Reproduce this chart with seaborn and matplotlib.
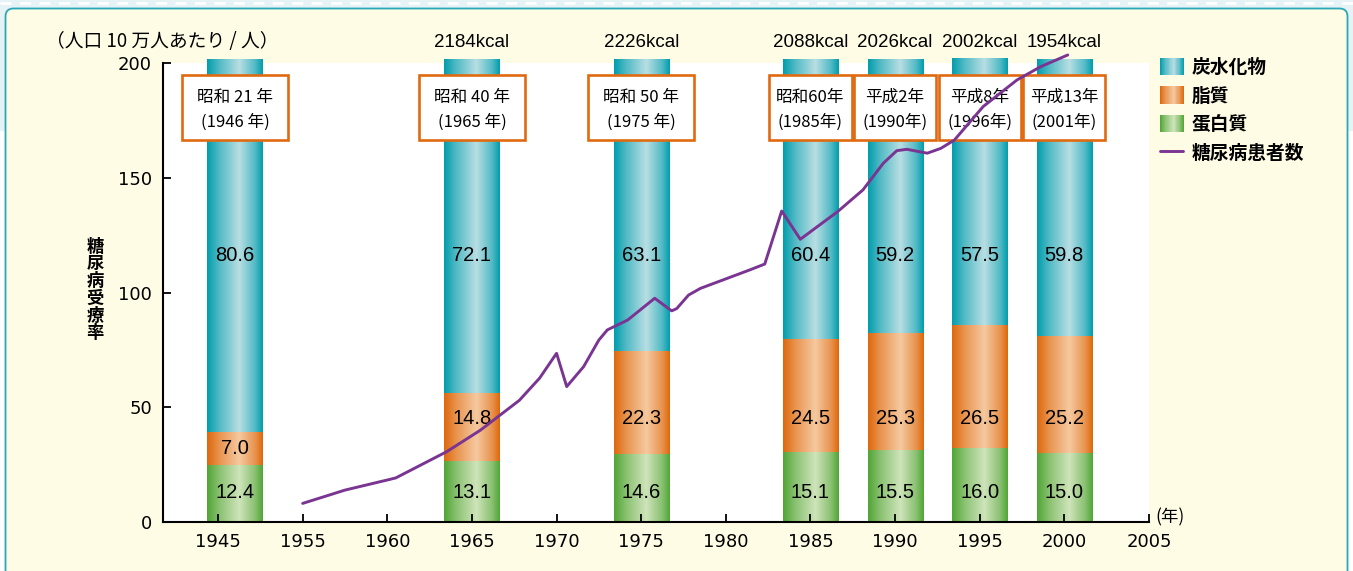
import numpy as np
import matplotlib
matplotlib.use("Agg")
import matplotlib.pyplot as plt
import seaborn as sns
from matplotlib.patches import Rectangle, FancyBboxPatch, Patch
from matplotlib.lines import Line2D
from matplotlib.colors import LinearSegmentedColormap
from matplotlib.legend_handler import HandlerBase

# ---------------- data ----------------
bar_years = [1946, 1965, 1975, 1985, 1990, 1995, 2000]
era_labels = ["昭和 21 年\n(1946 年)", "昭和 40 年\n(1965 年)", "昭和 50 年\n(1975 年)",
              "昭和 60 年\n(1985 年)", "平成 2 年\n(1990 年)", "平成 8 年\n(1996 年)",
              "平成 13 年\n(2001 年)"]
kcal = [None, 2184, 2226, 2088, 2026, 2002, 1954]
protein = [12.4, 13.1, 14.6, 15.1, 15.5, 16.0, 15.0]
fat = [7.0, 14.8, 22.3, 24.5, 25.3, 26.5, 25.2]
carbs = [80.6, 72.1, 63.1, 60.4, 59.2, 57.5, 59.8]

line_years = [1955, 1957.5, 1960, 1960.5, 1963.5, 1965.5, 1967.8, 1969, 1970, 1970.6,
              1971.6, 1972.5, 1973, 1974.2, 1975.8, 1976.8, 1977.1, 1977.8, 1978.5,
              1981.4, 1982.3, 1983.3, 1984.4, 1986.6, 1988.1, 1989.3, 1990.1, 1990.7,
              1991.9, 1992.7, 1993.5, 1995.2, 1997.2, 1998.6, 2000.2]
line_values = [8.1, 13.9, 18.3, 19.2, 30.6, 40.0, 53.0, 62.7, 73.5, 59.0,
               67.7, 79.3, 83.7, 88.0, 97.5, 92.0, 93.0, 98.9, 101.8,
               109.8, 112.4, 135.5, 123.2, 135.2, 144.7, 156.3, 161.8, 162.4,
               160.7, 162.8, 166.4, 181.0, 192.6, 198.4, 203.5]

tick_years = [1945, 1955, 1960, 1965, 1970, 1975, 1980, 1985, 1990, 1995, 2000, 2005]
y_ticks = [0, 50, 100, 150, 200]

series_names = ["炭水化物", "脂質", "蛋白質", "糖尿病患者数"]


# broken x scale: 1945-1950 occupies one step, then 1955 onwards
def to_pos(years):
    return np.interp(years, [1945, 1950, 1955, 2005], [0, 1, 1, 11])


# ---------------- style ----------------
sns.set_theme(style="ticks")
plt.rcParams["font.family"] = ["Noto Sans CJK JP", "DejaVu Sans"]
plt.rcParams["text.color"] = "black"

TEAL = ("#009DAD", "#B8DEE3")
ORANGE = ("#DE680C", "#F5C9A0")
GREEN = ("#50A535", "#CFE4BA")
PURPLE = "#7A3592"
BOX_EDGE = "#E06A10"


def grad_cmap(pair):
    dark, light = pair
    mid = LinearSegmentedColormap.from_list("m", [dark, light])(0.45)
    return LinearSegmentedColormap.from_list(
        "g", [(0, dark), (0.22, mid), (0.58, light), (0.86, mid), (1, dark)])


cm_teal, cm_orange, cm_green = grad_cmap(TEAL), grad_cmap(ORANGE), grad_cmap(GREEN)

W, H = 1353, 571
fig = plt.figure(figsize=(W / 100, H / 100), dpi=100)
fig.patch.set_facecolor("white")

# page decoration
fig.patches.append(Rectangle((0, 1 - 131 / H), 1, 131 / H, transform=fig.transFigure,
                             facecolor="#E6F3F6", edgecolor="none", zorder=-5))
fig.add_artist(Line2D([0, 1], [1 - 3 / H] * 2, transform=fig.transFigure, color="white",
                      lw=2, ls=(0, (4, 3)), zorder=-4))
fig.patches.append(FancyBboxPatch((0.055, -0.5), 13.42, 5.64 + 0.5 - 0.015,
                                  boxstyle="round,pad=0,rounding_size=0.08",
                                  transform=fig.dpi_scale_trans, facecolor="#FFFCE5",
                                  edgecolor="#2AA8B8", lw=1.3, zorder=-3))

ax = fig.add_axes([163 / W, 1 - 522 / H, (1149 - 163) / W, (522 - 63) / H])
ax2 = ax.twinx()
ax.set_zorder(2)
ax2.set_zorder(1)
ax.patch.set_visible(False)
ax2.patch.set_visible(True)
ax2.patch.set_facecolor("white")

# ---------------- bars (percent, on twin axis) ----------------
xb = to_pos(bar_years)
bw = 0.65
bottom2 = np.add(protein, fat)
c1 = ax2.bar(xb, protein, bw, color=GREEN[0], zorder=2, clip_on=False)
c2 = ax2.bar(xb, fat, bw, bottom=protein, color=ORANGE[0], zorder=2, clip_on=False)
c3 = ax2.bar(xb, carbs, bw, bottom=bottom2, color=TEAL[0], zorder=2, clip_on=False)
grad = np.linspace(0, 1, 256)[None, :]
for cont, cm in [(c1, cm_green), (c2, cm_orange), (c3, cm_teal)]:
    for p in cont:
        x0, y0, w, h = p.get_x(), p.get_y(), p.get_width(), p.get_height()
        ax2.imshow(grad, extent=(x0, x0 + w, y0, y0 + h), aspect="auto", cmap=cm,
                   interpolation="bicubic", zorder=2.5, clip_on=False)

# value labels
val_font = dict(family="Liberation Sans", fontsize=14.5, ha="center", va="center",
                zorder=4, color="black")
for i, x in enumerate(xb):
    ax2.text(x, 6.3, f"{protein[i]:.1f}", **val_font)
    fy = 22.4 if protein[i] < 20.5 and protein[i] + fat[i] > 24.5 else protein[i] + fat[i] / 2
    ax2.text(x, fy, f"{fat[i]:.1f}", **val_font)
    ax2.text(x, 57.6, f"{carbs[i]:.1f}", **val_font)

# era boxes
box_widths = [1.25, 1.25, 1.25, 0.97, 0.97, 0.97, 0.97]
for x, lab, bwid in zip(xb, era_labels, box_widths):
    ax2.add_patch(Rectangle((x - bwid / 2, 166.4), bwid, 28.4, transform=ax.transData,
                            facecolor="white", edgecolor=BOX_EDGE, lw=1.9, zorder=5,
                            clip_on=False))
    txt = lab if bwid > 1 else lab.replace(" ", "")
    ax2.text(x, 179.6, txt, transform=ax.transData, ha="center", va="center",
             fontsize=12, linespacing=1.6, zorder=6, clip_on=False)

# kcal labels
for x, k in zip(xb, kcal):
    if k is not None:
        ax2.annotate(f"{k}kcal", xy=(x, 1), xycoords=("data", "axes fraction"),
                     xytext=(0, 15), textcoords="offset points", ha="center",
                     va="center", family="Liberation Sans", fontsize=13.5,
                     annotation_clip=False)

ax2.set_ylim(0, 99.2)
ax2.set_yticks([])
for s in ax2.spines.values():
    s.set_visible(False)

# ---------------- line ----------------
sns.lineplot(x=to_pos(line_years), y=line_values, ax=ax, color=PURPLE, lw=2.1,
             legend=False, sort=False, zorder=6)
for ln in ax.lines:
    ln.set_clip_on(False)

ax.set_xlim(-0.65, 11)
ax.set_ylim(0, 200)
ax.set_xticks(to_pos(tick_years))
ax.set_xticklabels([str(t) for t in tick_years])
ax.set_yticks(y_ticks)
ax.set_yticklabels([str(t) for t in y_ticks])
ax.set_xlabel("")
ax.set_ylabel("")
ax.tick_params(direction="in", length=6, width=1.3, colors="black", labelsize=13, pad=8)
for lab in ax.get_xticklabels() + ax.get_yticklabels():
    lab.set_fontfamily("DejaVu Sans")
for side in ["top", "right"]:
    ax.spines[side].set_visible(False)
for side in ["left", "bottom"]:
    ax.spines[side].set_color("black")
    ax.spines[side].set_linewidth(1.5)

# texts
fig.text(95 / W, 1 - 290 / H, "\n".join("糖尿病受療率"), ha="center", va="center",
         fontsize=12.5, fontweight="bold", linespacing=0.95)
fig.text(46 / W, 1 - 42 / H, "（人口 10 万人あたり / 人）", ha="left", va="center",
         fontsize=13.5)
ax.annotate("(年)", xy=(1, 0), xycoords="axes fraction", xytext=(4.5, 3.6),
            textcoords="offset points", ha="left", va="center", fontsize=12.5,
            annotation_clip=False)


# ---------------- legend ----------------
class GradHandler(HandlerBase):
    def __init__(self, cmap):
        super().__init__()
        self.cmap = cmap

    def create_artists(self, legend, orig_handle, xdescent, ydescent, width, height,
                       fontsize, trans):
        n = 30
        arts = []
        for i in range(n):
            arts.append(Rectangle((-xdescent + width * i / n, -ydescent), width / n + 0.4,
                                  height, facecolor=self.cmap((i + 0.5) / n),
                                  edgecolor="none", transform=trans))
        return arts


h_c = Patch(label=series_names[0])
h_f = Patch(label=series_names[1])
h_p = Patch(label=series_names[2])
h_l = Line2D([], [], color=PURPLE, lw=2.1, label=series_names[3])
leg = ax.legend(handles=[h_c, h_f, h_p, h_l],
                handler_map={h_c: GradHandler(cm_teal), h_f: GradHandler(cm_orange),
                             h_p: GradHandler(cm_green)},
                loc="upper left", bbox_to_anchor=(1160 / W, 1 - 58 / H),
                bbox_transform=fig.transFigure, frameon=False,
                prop={"weight": "bold", "size": 13.5}, handlelength=1.25,
                handleheight=1.05, handletextpad=0.45, labelspacing=0.5,
                borderpad=0, borderaxespad=0)

fig.savefig("out.png", dpi=100, facecolor=fig.get_facecolor())
